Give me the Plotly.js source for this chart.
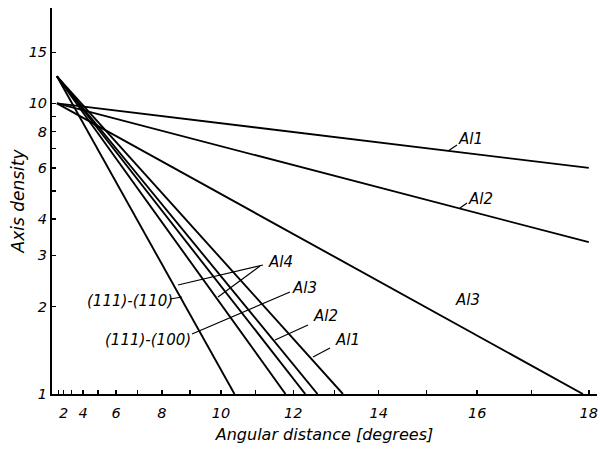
<!DOCTYPE html>
<html><head><meta charset="utf-8">
<script src="https://cdn.plot.ly/plotly-3.0.1.min.js"></script>
<style>html,body{margin:0;padding:0;background:#fff}#chart{width:600px;height:449px}</style>
</head><body><div id="chart"></div>
<script>
// ---- data (angular distance in degrees, axis density) ----
const al1GentleDeg = [0, 18];     const al1GentleDensity = [10, 6.0];
const al2GentleDeg = [0, 18];     const al2GentleDensity = [10, 3.33];
const al3GentleDeg = [0, 17.9];   const al3GentleDensity = [10, 1];
const al1SteepDeg = [0, 13.2];    const al1SteepDensity = [12.4, 1];
const al2SteepDeg = [0, 12.6];    const al2SteepDensity = [12.4, 1];
const al3SteepDeg = [0, 12.3];    const al3SteepDensity = [12.4, 1];
const al4_100Deg = [0, 11.8];     const al4_100Density = [12.4, 1];
const al4_110Deg = [0, 10.4];     const al4_110Density = [12.4, 1];

const xTickDegrees = [1,2,3,4,5,6,7,8,9,10,11,12,13,14,15,16,17,18];
const xTickLabels  = ['','2','','4','','6','','8','','10','','12','','14','','16','','18'];
const yTickValues  = [1,2,3,4,5,6,7,8,9,10,15];
const yTickLabels  = ['1','2','3','4','','6','','8','','10','15'];

// the horizontal axis is scaled in (angle)^2
const sq = a => a.map(v => v * v);
const FONT = 'DejaVu Sans';

const mk = (x, y, name) => ({
  x: sq(x), y: y, name: name, type: 'scatter', mode: 'lines',
  line: {color: '#000', width: 1.9}, hoverinfo: 'skip'
});

const data = [
  mk(al1GentleDeg, al1GentleDensity, 'Al1'),
  mk(al2GentleDeg, al2GentleDensity, 'Al2'),
  mk(al3GentleDeg, al3GentleDensity, 'Al3'),
  mk(al1SteepDeg, al1SteepDensity, 'Al1 steep'),
  mk(al2SteepDeg, al2SteepDensity, 'Al2 steep'),
  mk(al3SteepDeg, al3SteepDensity, 'Al3 steep'),
  mk(al4_100Deg, al4_100Density, 'Al4 (111)-(100)'),
  mk(al4_110Deg, al4_110Density, 'Al4 (111)-(110)')
];

// pixel -> paper helpers for label placement
const L = 52, R = 597, T = 8, B = 394;
const px = x => (x - L) / (R - L);
const py = y => (B - y) / (B - T);

const lab = (text, x, y, size) => ({
  text: text, xref: 'paper', yref: 'paper', x: px(x), y: py(y),
  showarrow: false, xanchor: 'center', yanchor: 'middle',
  font: {family: FONT, size: size || 15, style: 'italic', color: '#000'}
});
const lead = (x0, y0, x1, y1) => ({
  type: 'line', xref: 'paper', yref: 'paper',
  x0: px(x0), y0: py(y0), x1: px(x1), y1: py(y1),
  line: {color: '#000', width: 1.2}
});

const layout = {
  width: 600, height: 449,
  margin: {l: L, r: 600 - R, t: T, b: 449 - B},
  paper_bgcolor: '#fff', plot_bgcolor: '#fff',
  showlegend: false,
  font: {family: FONT, color: '#000'},
  xaxis: {
    range: [-3, 329],
    tickmode: 'array', tickvals: sq(xTickDegrees), ticktext: xTickLabels,
    ticks: 'inside', ticklen: 4, tickwidth: 1.5, tickcolor: '#000',
    showline: true, linewidth: 2, linecolor: '#000',
    showgrid: false, zeroline: false,
    ticklabelstandoff: 5,
    tickfont: {family: FONT, size: 14.5, style: 'italic', color: '#000'},
    title: {text: 'Angular distance [degrees]', standoff: 8,
            font: {family: FONT, size: 16, style: 'italic', color: '#000'}}
  },
  yaxis: {
    type: 'log', range: [0, Math.log10(21.3)],
    tickmode: 'array', tickvals: yTickValues, ticktext: yTickLabels,
    ticks: 'inside', ticklen: 4, tickwidth: 1.5, tickcolor: '#000',
    showline: true, linewidth: 2, linecolor: '#000',
    showgrid: false, zeroline: false,
    tickfont: {family: FONT, size: 14.5, style: 'italic', color: '#000'},
    title: {text: 'Axis density', standoff: 0,
            font: {family: FONT, size: 17, style: 'italic', color: '#000'}}
  },
  annotations: [
    lab('Al1', 470, 139),
    lab('Al2', 480, 199),
    lab('Al3', 467, 300),
    lab('Al4', 280, 262),
    lab('Al3', 304, 288),
    lab('Al2', 325, 316),
    lab('Al1', 347, 340),
    lab('(111)-(110)', 130, 301, 15),
    lab('(111)-(100)', 148, 340, 15)
  ],
  shapes: [
    lead(448, 151, 457, 145),
    lead(460, 208, 467, 203),
    lead(263, 265, 178, 285),
    lead(260, 266, 218, 297),
    lead(290, 292, 192, 334),
    lead(308, 325, 275, 340),
    lead(330, 348, 313, 357),
    lead(170, 299, 182, 297)
  ]
};

Plotly.newPlot('chart', data, layout, {staticPlot: true, displayModeBar: false});
</script></body></html>
